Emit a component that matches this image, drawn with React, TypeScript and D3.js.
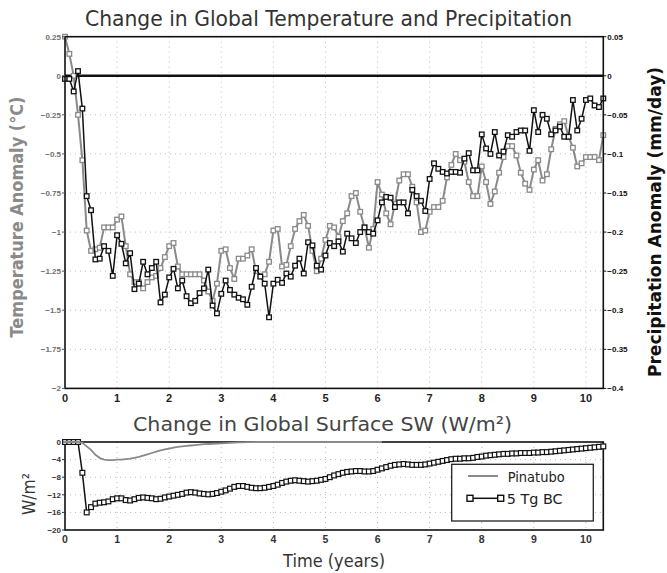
import React from "react";
import * as d3 from "d3";

// ---- data (monthly, month index / 12 = years) ----
const yearTicks = [0, 1, 2, 3, 4, 5, 6, 7, 8, 9, 10];
const tempTicks = [0.25, 0, -0.25, -0.5, -0.75, -1, -1.25, -1.5, -1.75, -2];
const precipTicks = [0.05, 0, -0.05, -0.1, -0.15, -0.2, -0.25, -0.3, -0.35, -0.4];
const swTicks = [0, -4, -8, -12, -16, -20];

const temperature = [
  0.25, 0.14, 0.0, -0.25, -0.54, -0.99, -1.12, -1.11, -1.10, -0.97,
  -0.97, -0.97, -0.92, -0.90, -1.09, -1.27, -1.32, -1.32, -1.36, -1.32,
  -1.29, -1.28, -1.23, -1.16, -1.09, -1.07, -1.22, -1.27, -1.27, -1.27,
  -1.27, -1.27, -1.31, -1.38, -1.44, -1.33, -1.12, -1.11, -1.23, -1.30,
  -1.17, -1.17, -1.15, -1.11, -1.25, -1.28, -1.27, -1.19, -0.99, -0.98,
  -1.22, -1.21, -1.09, -0.98, -0.93, -0.89, -0.96, -1.12, -1.25, -1.17,
  -1.05, -0.96, -0.97, -1.03, -0.93, -0.88, -0.77, -0.75, -0.87, -0.97,
  -1.10, -0.98, -0.68, -0.76, -0.88, -0.95, -0.82, -0.67, -0.63, -0.63,
  -0.71, -0.81, -1.00, -0.99, -0.87, -0.84, -0.84, -0.80, -0.65, -0.57,
  -0.50, -0.54, -0.55, -0.68, -0.77, -0.77, -0.58, -0.68, -0.82, -0.74,
  -0.62, -0.52, -0.45, -0.45, -0.51, -0.62, -0.69, -0.73, -0.60, -0.54,
  -0.67, -0.63, -0.47, -0.34, -0.31, -0.29, -0.39, -0.46, -0.58, -0.56,
  -0.52, -0.52, -0.52, -0.54, -0.38,
];

const precipitation = [
  -0.004, -0.004, -0.020, 0.006, -0.042, -0.154, -0.172, -0.235, -0.234, -0.218,
  -0.224, -0.256, -0.204, -0.215, -0.240, -0.227, -0.273, -0.266, -0.238, -0.254,
  -0.246, -0.238, -0.290, -0.280, -0.258, -0.247, -0.272, -0.262, -0.282, -0.291,
  -0.288, -0.278, -0.272, -0.248, -0.294, -0.304, -0.279, -0.262, -0.274, -0.280,
  -0.284, -0.286, -0.293, -0.270, -0.246, -0.257, -0.266, -0.309, -0.266, -0.261,
  -0.265, -0.253, -0.257, -0.243, -0.234, -0.253, -0.213, -0.217, -0.243, -0.248,
  -0.230, -0.214, -0.218, -0.212, -0.225, -0.202, -0.208, -0.214, -0.200, -0.194,
  -0.200, -0.202, -0.185, -0.162, -0.155, -0.156, -0.168, -0.162, -0.162, -0.176,
  -0.146, -0.154, -0.160, -0.173, -0.132, -0.112, -0.119, -0.123, -0.125, -0.123,
  -0.123, -0.124, -0.106, -0.099, -0.121, -0.121, -0.075, -0.093, -0.100, -0.072,
  -0.102, -0.097, -0.076, -0.078, -0.072, -0.070, -0.070, -0.096, -0.044, -0.072,
  -0.050, -0.055, -0.075, -0.070, -0.065, -0.078, -0.078, -0.031, -0.070, -0.055,
  -0.031, -0.029, -0.038, -0.040, -0.029,
];

const bcSW = [
  0, 0, 0, 0, -7.0, -16.0, -14.8, -14.0, -13.8, -13.7,
  -13.5, -13.0, -12.8, -12.8, -13.2, -13.3, -13.0, -12.7, -12.6, -12.7,
  -12.8, -13.0, -12.9, -12.6, -12.4, -12.2, -12.0, -11.8, -11.5, -11.4,
  -11.5, -11.7, -11.8, -11.9, -11.8, -11.6, -11.3, -11.0, -10.6, -10.2,
  -10.0, -10.0, -10.2, -10.4, -10.5, -10.5, -10.4, -10.2, -10.0, -9.7,
  -9.3, -9.0, -8.8, -8.7, -8.8, -8.9, -9.0, -8.9, -8.8, -8.6,
  -8.4, -8.0, -7.6, -7.3, -7.0, -6.8, -6.7, -6.6, -6.6, -6.7,
  -6.7, -6.6, -6.3, -6.0, -5.7, -5.4, -5.2, -5.1, -5.0, -5.1,
  -5.2, -5.2, -5.2, -5.1, -4.9, -4.7, -4.5, -4.3, -4.1, -3.9,
  -3.8, -3.8, -3.7, -3.7, -3.6, -3.4, -3.3, -3.1, -3.0, -2.9,
  -2.8, -2.7, -2.7, -2.6, -2.6, -2.5, -2.5, -2.5, -2.4, -2.4,
  -2.3, -2.3, -2.2, -2.1, -2.0, -1.9, -1.8, -1.7, -1.6, -1.5,
  -1.4, -1.3, -1.2, -1.1, -1.0,
];

const pinatuboSW = [
  0, 0, 0, 0, -0.2, -1.0, -1.8, -2.9, -3.6, -4.0,
  -4.1, -4.1, -4.0, -4.0, -3.9, -3.8, -3.6, -3.4, -3.1, -2.8,
  -2.5, -2.2, -1.9, -1.7, -1.5, -1.3, -1.1, -1.0, -0.9, -0.8,
  -0.7, -0.6, -0.5, -0.45, -0.4, -0.35, -0.3, -0.25, -0.2, -0.15,
  -0.1, -0.1, -0.05, -0.05, 0, 0, 0, 0, 0, 0,
  0, 0, 0, 0, 0, 0, 0, 0, 0, 0,
  0, 0, 0, 0, 0, 0, 0, 0, 0, 0,
  0, 0, 0, 0,
];

const GRAY = "#8a8a8a";
const FONT = "'DejaVu Sans', 'Liberation Sans', sans-serif";
const TICKFONT = "'Liberation Sans', Arial, sans-serif";

const fmt = (d: number) => (d === 0 ? "0" : String(d).replace("-", "\u2212"));

export default function App() {
  const L = 65, R = 603.3;
  const T1 = 36.7, B1 = 388.4;
  const T2 = 442, B2 = 530;
  const lastYear = (temperature.length - 1) / 12;

  const x = d3.scaleLinear().domain([0, lastYear]).range([L, R]);
  const yT = d3.scaleLinear().domain([-2, 0.25]).range([B1, T1]);
  const yP = d3.scaleLinear().domain([-0.4, 0.05]).range([B1, T1]);
  const yS = d3.scaleLinear().domain([-20, 0]).range([B2, T2]);

  const lineT = d3.line<number>().x((_, i) => x(i / 12)).y((d) => yT(d));
  const lineP = d3.line<number>().x((_, i) => x(i / 12)).y((d) => yP(d));
  const lineS = d3.line<number>().x((_, i) => x(i / 12)).y((d) => yS(d));

  const ms = 4.6;
  const markers = (vals: number[], y: (v: number) => number, color: string, key: string, size = ms, sw = 1.3) =>
    vals.map((v, i) => (
      <rect
        key={key + i}
        x={x(i / 12) - size / 2}
        y={y(v) - size / 2}
        width={size}
        height={size}
        fill="#fff"
        stroke={color}
        strokeWidth={sw}
      />
    ));

  return (
    <svg
      width={667}
      height={573}
      viewBox="0 0 667 573"
      style={{ position: "absolute", left: 0, top: 0, background: "#fff" }}
    >
      <rect x={0} y={0} width={667} height={573} fill="#fff" />

      {/* ---------- top panel ---------- */}
      <text x={328.5} y={26} textAnchor="middle" fontFamily={FONT} fontSize={21} fill="#333"
        textLength={487} lengthAdjust="spacingAndGlyphs">
        Change in Global Temperature and Precipitation
      </text>

      {/* grid */}
      {yearTicks.slice(1).map((t) => (
        <line key={"gx" + t} x1={x(t)} x2={x(t)} y1={T1} y2={B1} stroke="#bbb" strokeWidth={1} strokeDasharray="1,4" />
      ))}
      {tempTicks.slice(1, -1).map((t) => (
        <line key={"gy" + t} x1={L} x2={R} y1={yT(t)} y2={yT(t)} stroke="#bbb" strokeWidth={1} strokeDasharray="1,4" />
      ))}

      {/* zero line */}
      <line x1={L} x2={R} y1={yT(0)} y2={yT(0)} stroke="#111" strokeWidth={2.5} />

      {/* series */}
      <path d={lineT(temperature) || ""} fill="none" stroke={GRAY} strokeWidth={2} />
      {markers(temperature, yT, GRAY, "t")}
      <path d={lineP(precipitation) || ""} fill="none" stroke="#111" strokeWidth={1.5} />
      {markers(precipitation, yP, "#111", "p")}

      {/* frame */}
      <rect x={L} y={T1} width={R - L} height={B1 - T1} fill="none" stroke="#111" strokeWidth={1.6} />

      {/* left ticks */}
      {tempTicks.map((t) => (
        <g key={"lt" + t}>
          <line x1={L - 3} x2={L} y1={yT(t)} y2={yT(t)} stroke="#555" strokeWidth={1} />
          <text x={L - 4} y={yT(t) + 2.8} textAnchor="end" fontFamily={TICKFONT} fontWeight="bold" fontSize={8} fill="#707070">
            {fmt(t)}
          </text>
        </g>
      ))}
      {/* right ticks */}
      {precipTicks.map((t) => (
        <g key={"rt" + t}>
          <line x1={R} x2={R + 3} y1={yP(t)} y2={yP(t)} stroke="#111" strokeWidth={1} />
          <text x={R + 4} y={yP(t) + 2.8} textAnchor="start" fontFamily={TICKFONT} fontWeight="bold" fontSize={8} fill="#111">
            {fmt(t)}
          </text>
        </g>
      ))}
      {/* x ticks top panel */}
      {yearTicks.map((t) => (
        <text key={"xt" + t} x={x(t)} y={401.5} textAnchor="middle" fontFamily={TICKFONT} fontWeight="bold" fontSize={11} fill="#222">
          {t}
        </text>
      ))}

      {/* axis titles */}
      <text transform="translate(23,217) rotate(-90)" textAnchor="middle" fontFamily={FONT} fontWeight="bold" fontSize={18}
        fill={GRAY} textLength={241} lengthAdjust="spacingAndGlyphs">
        Temperature Anomaly (°C)
      </text>
      <text transform="translate(661,222) rotate(-90)" textAnchor="middle" fontFamily={FONT} fontWeight="bold" fontSize={18}
        fill="#111" textLength={310} lengthAdjust="spacingAndGlyphs">
        Precipitation Anomaly (mm/day)
      </text>

      {/* ---------- bottom panel ---------- */}
      <text x={322.5} y={430.7} textAnchor="middle" fontFamily={FONT} fontSize={20} fill="#444"
        textLength={379} lengthAdjust="spacingAndGlyphs">
        Change in Global Surface SW (W/m²)
      </text>

      {yearTicks.slice(1).map((t) => (
        <line key={"bgx" + t} x1={x(t)} x2={x(t)} y1={T2} y2={B2} stroke="#bbb" strokeWidth={1} strokeDasharray="1,4" />
      ))}
      {swTicks.slice(1, -1).map((t) => (
        <line key={"bgy" + t} x1={L} x2={R} y1={yS(t)} y2={yS(t)} stroke="#bbb" strokeWidth={1} strokeDasharray="1,4" />
      ))}

      <rect x={L} y={T2} width={R - L} height={B2 - T2} fill="none" stroke="#111" strokeWidth={1.6} />

      <path d={lineS(bcSW) || ""} fill="none" stroke="#111" strokeWidth={1.5} />
      {markers(bcSW, yS, "#111", "b", 4.8, 1.2)}
      <path d={lineS(pinatuboSW) || ""} fill="none" stroke={GRAY} strokeWidth={1.8} />

      {swTicks.map((t) => (
        <g key={"st" + t}>
          <line x1={L - 3} x2={L} y1={yS(t)} y2={yS(t)} stroke="#333" strokeWidth={1} />
          <text x={L - 4} y={yS(t) + 2.8} textAnchor="end" fontFamily={TICKFONT} fontWeight="bold" fontSize={8} fill="#333">
            {fmt(t)}
          </text>
        </g>
      ))}
      {yearTicks.map((t) => (
        <text key={"bxt" + t} x={x(t)} y={542.7} textAnchor="middle" fontFamily={TICKFONT} fontWeight="bold" fontSize={10.5} fill="#333">
          {t}
        </text>
      ))}

      <text transform="translate(35,494) rotate(-90)" textAnchor="middle" fontFamily={FONT} fontSize={17} fill="#333"
        textLength={42} lengthAdjust="spacingAndGlyphs">
        W/m²
      </text>
      <text x={334} y={567} textAnchor="middle" fontFamily={FONT} fontSize={18.5} fill="#333"
        textLength={102} lengthAdjust="spacingAndGlyphs">
        Time (years)
      </text>

      {/* legend */}
      <rect x={451.7} y={464.3} width={141.6} height={56.7} fill="#fff" stroke="#222" strokeWidth={1.3} />
      <line x1={468} x2={498} y1={476} y2={476} stroke={GRAY} strokeWidth={2} />
      <text x={507.7} y={481.5} fontFamily={FONT} fontSize={14} fill="#222" textLength={57} lengthAdjust="spacingAndGlyphs">
        Pinatubo
      </text>
      <line x1={470} x2={500.7} y1={498.3} y2={498.3} stroke="#111" strokeWidth={1.5} />
      <rect x={467} y={495.3} width={6} height={6} fill="#fff" stroke="#111" strokeWidth={1.4} />
      <rect x={497.7} y={495.3} width={6} height={6} fill="#fff" stroke="#111" strokeWidth={1.4} />
      <text x={506.7} y={503.5} fontFamily={FONT} fontSize={14} fill="#222" textLength={56} lengthAdjust="spacingAndGlyphs">
        5 Tg BC
      </text>
    </svg>
  );
}
